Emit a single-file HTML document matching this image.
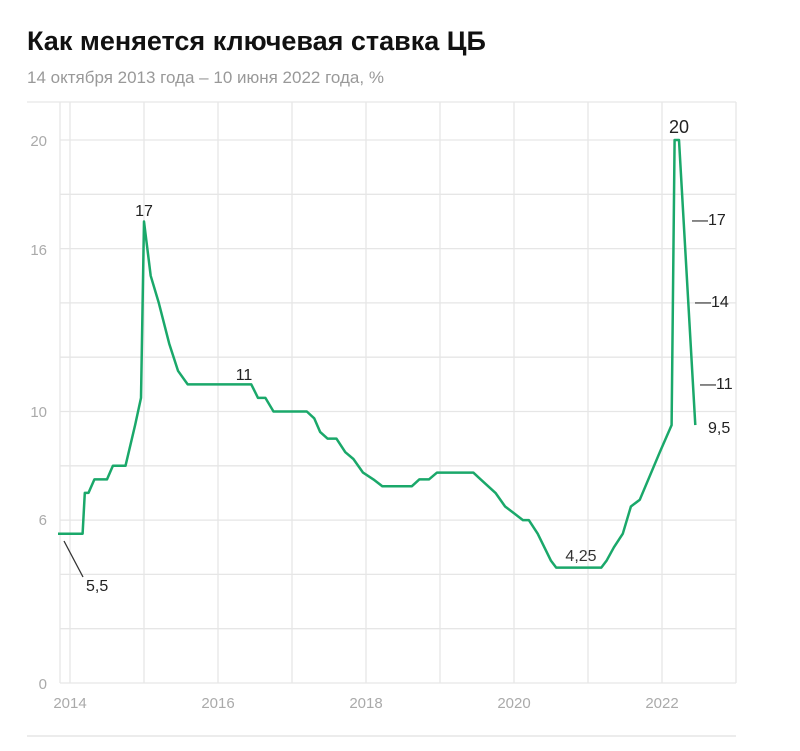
<!DOCTYPE html>
<html><head><meta charset="utf-8"><style>
body{margin:0;background:#fff;width:800px;height:746px;overflow:hidden;font-family:"Liberation Sans",sans-serif}
</style></head><body>
<svg width="800" height="746" xmlns="http://www.w3.org/2000/svg" font-family="Liberation Sans, sans-serif">
<text x="27" y="50" font-size="27" font-weight="bold" fill="#111">Как меняется ключевая ставка ЦБ</text>
<text x="27" y="83" font-size="17" fill="#999">14 октября 2013 года – 10 июня 2022 года, %</text>
<g stroke="#e6e6e6" stroke-width="1.3">
<line x1="27" y1="102" x2="736" y2="102"/>
<line x1="60" y1="140" x2="736" y2="140"/>
<line x1="60" y1="194.3" x2="736" y2="194.3"/>
<line x1="60" y1="248.6" x2="736" y2="248.6"/>
<line x1="60" y1="302.9" x2="736" y2="302.9"/>
<line x1="60" y1="357.2" x2="736" y2="357.2"/>
<line x1="60" y1="411.5" x2="736" y2="411.5"/>
<line x1="60" y1="465.8" x2="736" y2="465.8"/>
<line x1="60" y1="520.1" x2="736" y2="520.1"/>
<line x1="60" y1="574.4" x2="736" y2="574.4"/>
<line x1="60" y1="628.7" x2="736" y2="628.7"/>
<line x1="60" y1="683" x2="736" y2="683"/>
<line x1="60" y1="102" x2="60" y2="683"/>
<line x1="70" y1="102" x2="70" y2="683"/>
<line x1="144" y1="102" x2="144" y2="683"/>
<line x1="218" y1="102" x2="218" y2="683"/>
<line x1="292" y1="102" x2="292" y2="683"/>
<line x1="366" y1="102" x2="366" y2="683"/>
<line x1="440" y1="102" x2="440" y2="683"/>
<line x1="514" y1="102" x2="514" y2="683"/>
<line x1="588" y1="102" x2="588" y2="683"/>
<line x1="662" y1="102" x2="662" y2="683"/>
<line x1="736" y1="102" x2="736" y2="683"/>
</g>
<line x1="27" y1="736" x2="736" y2="736" stroke="#e6e6e6" stroke-width="1.5"/>
<g font-size="15" fill="#aaa" text-anchor="end">
<text x="47" y="146">20</text><text x="47" y="255">16</text><text x="47" y="417">10</text><text x="47" y="525">6</text><text x="47" y="689">0</text>
</g>
<g font-size="15" fill="#aaa" text-anchor="middle">
<text x="70" y="708">2014</text><text x="218" y="708">2016</text><text x="366" y="708">2018</text><text x="514" y="708">2020</text><text x="662" y="708">2022</text>
</g>
<polyline fill="none" stroke="#1aa86a" stroke-width="2.5" stroke-linejoin="round" points="58,533.7 82.6,533.7 84.8,492.9 88.5,492.9 94.4,479.4 107,479.4 112.9,465.8 125.5,465.8 135.1,425.1 141,397.9 144,221.5 150.7,275.8 158.8,302.9 169.2,343.6 178,370.8 187.7,384.4 251.3,384.4 258,397.9 265.4,397.9 273.5,411.5 306.8,411.5 314.2,418.3 320.1,431.9 327.5,438.6 336.4,438.6 345.3,452.2 353.4,459 363,472.6 373.4,479.4 382.3,486.2 411.9,486.2 419.3,479.4 428.9,479.4 437,472.6 473.3,472.6 480.7,479.4 488.1,486.2 495.5,492.9 505.1,506.5 514,513.3 522.9,520.1 528.8,520.1 537.7,533.7 551,560.8 556.2,567.6 601.3,567.6 606.5,560.8 613.9,547.3 622.8,533.7 630.9,506.5 639.8,499.7 659.8,452.2 671.6,425.1 674.6,140 679,140 695.3,425.1"/>
<g font-size="16" fill="#222">
<text x="144" y="216" text-anchor="middle">17</text>
<text x="244" y="380" text-anchor="middle">11</text>
<line x1="64" y1="541" x2="83" y2="577" stroke="#333" stroke-width="1.3"/>
<text x="86" y="591">5,5</text>
<text x="581" y="561" text-anchor="middle" fill="#333">4,25</text>
<text x="679" y="133" text-anchor="middle" font-size="18">20</text>
<text x="692" y="225">—17</text>
<text x="695" y="307">—14</text>
<text x="700" y="389">—11</text>
<text x="708" y="433">9,5</text>
</g>
</svg>
</body></html>
